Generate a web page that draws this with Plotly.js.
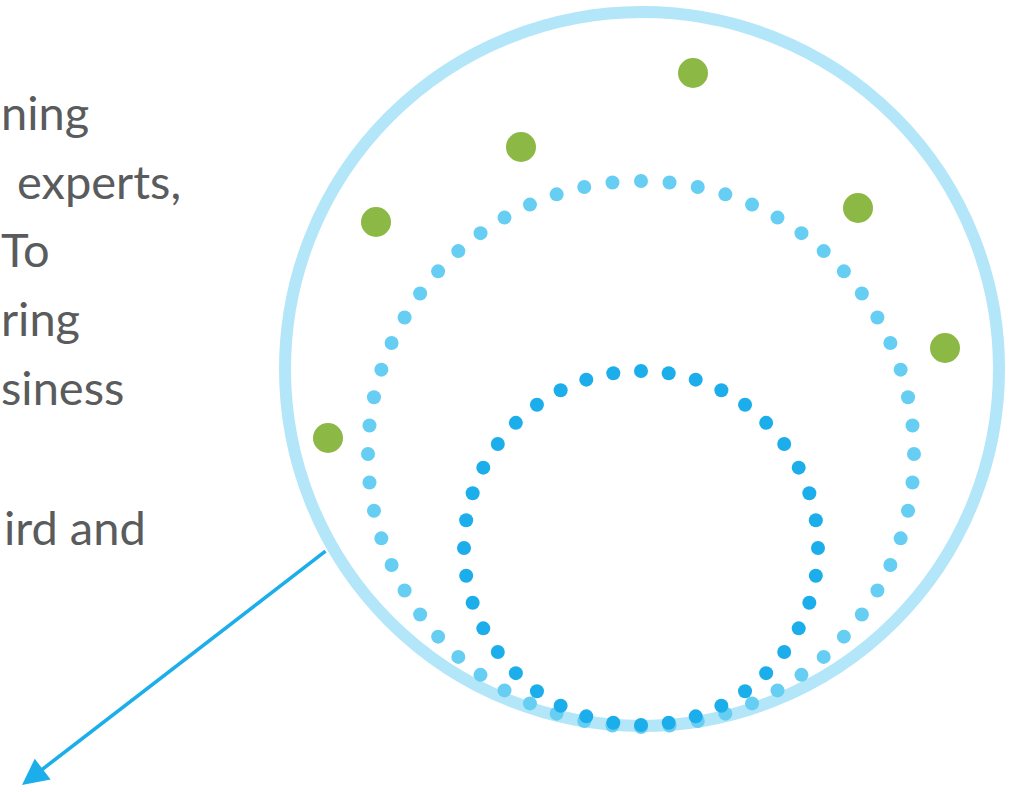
<!DOCTYPE html>
<html>
<head>
<meta charset="utf-8">
<script src="https://cdn.plot.ly/plotly-3.0.1.min.js"></script>
<style>
  html, body { margin: 0; padding: 0; background: #ffffff; }
  #chart { width: 1018px; height: 792px; }
</style>
</head>
<body>
<div id="chart"></div>
<script>
// ---- Data ----
// Cropped text fragments on the left
const textFragments = ['ning', 'experts,', 'To', 'ring', 'siness', 'ird and'];
const textX = [1, 181, 1, 1, 1, 146];
const textAnchor = ['left', 'right', 'left', 'left', 'left', 'right'];
const textBaselineY = [128, 197, 265, 334, 403, 543];

// Dotted rings (all tangent at the bottom of the large circle)
const ringNames = ['outer ring', 'inner ring'];
const ringCenterX = [641, 641];
const ringCenterY = [454, 548];
const ringRadius = [273, 177];
const ringDotCount = [60, 40];
const ringColors = ['#66cdf3', '#1caeea'];

// Large enclosing circle
const bigCenterX = 642;
const bigCenterY = 369;
const bigRadius = 357;

// Green dots
const greenX = [328, 376, 521, 693, 858, 945];
const greenY = [438, 222, 147, 73, 208, 348];

// Arrow (tail -> head)
const arrowTail = [327, 550];
const arrowHead = [22, 785];

// ---- Build traces ----
const traces = [];
ringNames.forEach((name, i) => {
  const xs = [], ys = [];
  for (let k = 0; k < ringDotCount[i]; k++) {
    const a = 2 * Math.PI * k / ringDotCount[i];
    xs.push(ringCenterX[i] + ringRadius[i] * Math.sin(a));
    ys.push(ringCenterY[i] - ringRadius[i] * Math.cos(a));
  }
  traces.push({
    type: 'scatter', mode: 'markers', name: name, x: xs, y: ys,
    marker: { size: 14, color: ringColors[i], line: { width: 0 } },
    hoverinfo: 'skip', showlegend: false
  });
});
traces.push({
  type: 'scatter', mode: 'markers', name: 'green', x: greenX, y: greenY,
  marker: { size: 30, color: '#8cb845', line: { width: 0 } },
  hoverinfo: 'skip', showlegend: false
});

const fontSize = 47;
const annotations = textFragments.map((t, i) => ({
  x: textX[i], y: textBaselineY[i] - 16, xref: 'x', yref: 'y',
  text: t, showarrow: false, xanchor: textAnchor[i], yanchor: 'middle',
  borderpad: 0, borderwidth: 0,
  font: { family: 'Lato, "Open Sans", sans-serif', size: fontSize, color: '#5a5b5d' }
}));
annotations.push({
  x: arrowHead[0], y: arrowHead[1], ax: arrowTail[0], ay: arrowTail[1],
  xref: 'x', yref: 'y', axref: 'x', ayref: 'y', text: '',
  showarrow: true, arrowhead: 2, arrowsize: 1.45, arrowwidth: 3.6,
  arrowcolor: '#1caeea', standoff: 0
});

const layout = {
  width: 1018, height: 792,
  margin: { l: 0, r: 0, t: 0, b: 0, pad: 0 },
  paper_bgcolor: '#ffffff', plot_bgcolor: '#ffffff',
  xaxis: { range: [0, 1018], visible: false, fixedrange: true },
  yaxis: { range: [792, 0], visible: false, fixedrange: true },
  showlegend: false,
  shapes: [{
    type: 'circle', xref: 'x', yref: 'y', layer: 'below',
    x0: bigCenterX - bigRadius, x1: bigCenterX + bigRadius,
    y0: bigCenterY - bigRadius, y1: bigCenterY + bigRadius,
    line: { color: '#b3e6f8', width: 12 }
  }],
  annotations: annotations
};

Plotly.newPlot('chart', traces, layout, { displayModeBar: false, staticPlot: true });
</script>
</body>
</html>
